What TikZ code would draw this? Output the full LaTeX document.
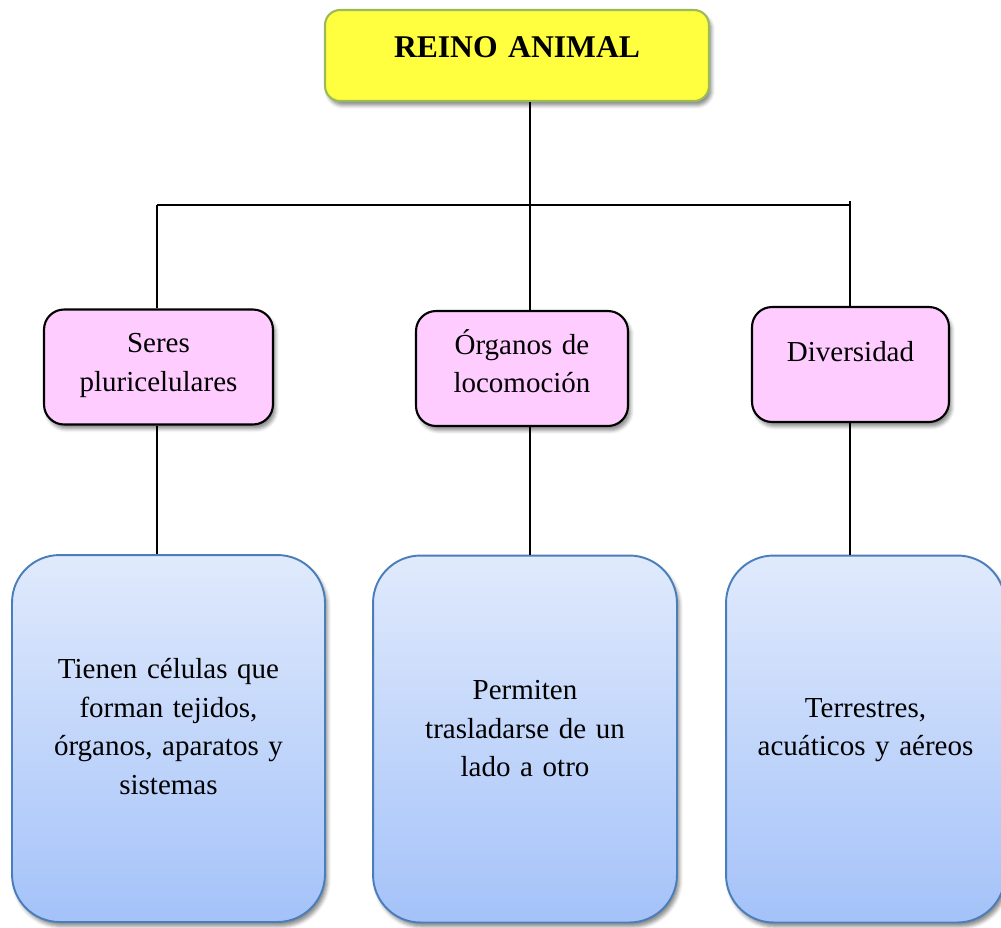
\documentclass[tikz,border=0pt]{standalone}
\usepackage{fontspec}
\setmainfont{Liberation Serif}
\usepackage{xcolor}
\usepackage{tikz}
\usetikzlibrary{shadows.blur}
\usetikzlibrary{shadings}

\definecolor{amarillo}{RGB}{255,255,64}
\definecolor{verdeborde}{RGB}{155,187,89}
\definecolor{rosa}{RGB}{255,204,255}
\definecolor{azulclaro}{RGB}{224,234,252}
\definecolor{azuloscuro}{RGB}{164,194,249}
\definecolor{azulborde}{RGB}{74,126,187}

% deja espacio bajo la ultima linea para subir el texto
\newcommand{\bajo}[1]{\rule[-#1]{0pt}{#1}}

\begin{document}
\begin{tikzpicture}[
			x=0.02cm, y=-0.02cm,
			every node/.style={
				font=\fontsize{16.5}{22}\selectfont,
				align=center,
			},
			sombra/.style={
				blur shadow={shadow xshift=1.5pt, shadow yshift=-2.5pt,
					shadow blur radius=2pt, shadow opacity=45},
			},
			reino/.style={sombra,
				draw=verdeborde,
				line width=1.2pt,
				fill=amarillo,
				rounded corners=0.3cm,
				minimum width=7.68cm,
				minimum height=1.82cm,
				text width=7cm,
				font=\fontsize{18}{22}\selectfont\bfseries,
			},
			grupo/.style={sombra,
				draw=black,
				line width=1.2pt,
				fill=rosa,
				rounded corners=0.4cm,
				minimum height=2.3cm,
			},
			detalle/.style={sombra,
				draw=azulborde,
				line width=1.1pt,
				top color=azulclaro,
				bottom color=azuloscuro,
				rounded corners=0.95cm,
				minimum height=7.34cm,
			},
			enlace/.style={draw=black, line width=0.85pt},
			]
			\useasboundingbox (0,0) rectangle (1001,927);
			%% cajas
			\node[reino] (animal) at (517,55.5) {REINO ANIMAL\bajo{0.34cm}};
			\node[grupo, minimum width=4.58cm, text width=4cm] (seres) at (158.5,367)
				{Seres\\pluricelulares\bajo{0.18cm}};
			\node[grupo, minimum width=4.24cm, text width=3.8cm] (organos) at (522,368.5)
				{Órganos de\\locomoción\bajo{0.3cm}};
			\node[grupo, minimum width=3.94cm, text width=3.5cm] (diversidad) at (850.5,364.5)
				{Diversidad\bajo{0.54cm}};
			\node[detalle, minimum width=6.26cm, text width=5.6cm] (celulas) at (168.5,738.5)
				{Tienen células que\\forman tejidos,\\órganos, aparatos y\\sistemas\bajo{0.48cm}};
			\node[detalle, minimum width=6.08cm, text width=5.4cm] (permiten) at (525,739)
				{Permiten\\trasladarse de un\\lado a otro\bajo{0.42cm}};
			\node[detalle, minimum width=5.58cm, text width=5cm] (terrestres) at (865.5,739)
				{Terrestres,\\acuáticos y aéreos\bajo{0.48cm}};
			%% lineas
			\coordinate (centro) at (530,205);
			\coordinate (izq) at (157,205);
			\coordinate (der) at (850,205);
			\draw[enlace] (animal.south -| centro) -- (organos.north -| centro);
			\draw[enlace] (izq) -- (der);
			\draw[enlace] (izq) -- (seres.north -| izq);
			\draw[enlace] ([yshift=2pt]der) -- (diversidad.north -| der);
			\draw[enlace] (seres.south -| izq) -- (celulas.north -| izq);
			\draw[enlace] (organos.south -| centro) -- (permiten.north -| centro);
			\draw[enlace] (diversidad.south -| der) -- (terrestres.north -| der);
		\end{tikzpicture}
\end{document}
